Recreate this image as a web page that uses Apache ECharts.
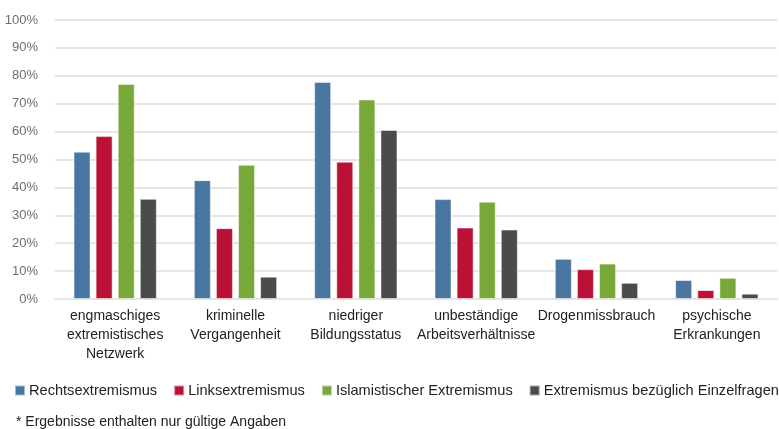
<!DOCTYPE html>
<html>
<head>
<meta charset="utf-8">
<script src="https://cdn.jsdelivr.net/npm/echarts@6/dist/echarts.min.js"></script>
<style>
  html, body { margin: 0; padding: 0; background: #fff; }
  #chart { width: 779px; height: 429px; }
</style>
</head>
<body>
<div id="chart"></div>
<script>
// Kategorien und Werte (in %)
const categories = [
  'engmaschiges\nextremistisches\nNetzwerk',
  'kriminelle\nVergangenheit',
  'niedriger\nBildungsstatus',
  'unbeständige\nArbeitsverhältnisse',
  'Drogenmissbrauch',
  'psychische\nErkrankungen'
];
const seriesNames = [
  'Rechtsextremismus',
  'Linksextremismus',
  'Islamistischer Extremismus',
  'Extremismus bezüglich Einzelfragen'
];
const rechts = [52.8, 42.6, 77.8, 35.8, 14.4, 6.8];
const links = [58.4, 25.4, 49.2, 25.6, 10.7, 3.2];
const islam = [77.1, 48.1, 71.5, 34.9, 12.7, 7.6];
const einzel = [35.9, 8.0, 60.6, 24.9, 5.8, 1.9];
const yTicks = [0, 10, 20, 30, 40, 50, 60, 70, 80, 90, 100];

const colors = ['#4876a0', '#ba1237', '#78a838', '#4a4b4d'];
const values = [rechts, links, islam, einzel];
const font = "'Liberation Sans', Arial, sans-serif";

const chart = echarts.init(document.getElementById('chart'));

const option = {
  animation: false,
  textStyle: { fontFamily: font },
  title: {
    text: '* Ergebnisse enthalten nur gültige Angaben',
    left: 11,
    top: 410,
    textStyle: { fontFamily: font, fontSize: 14, fontWeight: 'normal', color: '#222' }
  },
  legend: {
    data: seriesNames,
    left: 14,
    top: 383,
    padding: 0,
    itemWidth: 10,
    itemHeight: 10,
    itemGap: 16,
    icon: 'rect',
    textStyle: { fontFamily: font, fontSize: 14.6, color: '#222', padding: [0, 0, 0, -1] }
  },
  grid: {
    left: 55,
    right: 2,
    top: 20,
    bottom: 130
  },
  xAxis: {
    type: 'category',
    data: categories,
    axisLine: { show: true, lineStyle: { color: '#e6e6e6', width: 2 } },
    axisTick: { show: false },
    axisLabel: {
      color: '#222',
      fontFamily: font,
      fontSize: 14,
      lineHeight: 19,
      margin: 8,
      interval: 0
    }
  },
  yAxis: {
    type: 'value',
    min: yTicks[0],
    max: yTicks[yTicks.length - 1],
    interval: 10,
    axisLine: { show: false },
    axisTick: { show: false },
    splitLine: { lineStyle: { color: '#e6e6e6', width: 2 } },
    axisLabel: {
      formatter: '{value}%',
      color: '#6f6f6f',
      fontFamily: font,
      fontSize: 13,
      margin: 17
    }
  },
  series: seriesNames.map((name, i) => ({
    name: name,
    type: 'bar',
    data: values[i],
    barWidth: 17,
    barGap: '30%',
    itemStyle: {
      color: colors[i],
      borderColor: 'rgba(255,255,255,0.5)',
      borderWidth: 1
    }
  }))
};

chart.setOption(option);
</script>
</body>
</html>
